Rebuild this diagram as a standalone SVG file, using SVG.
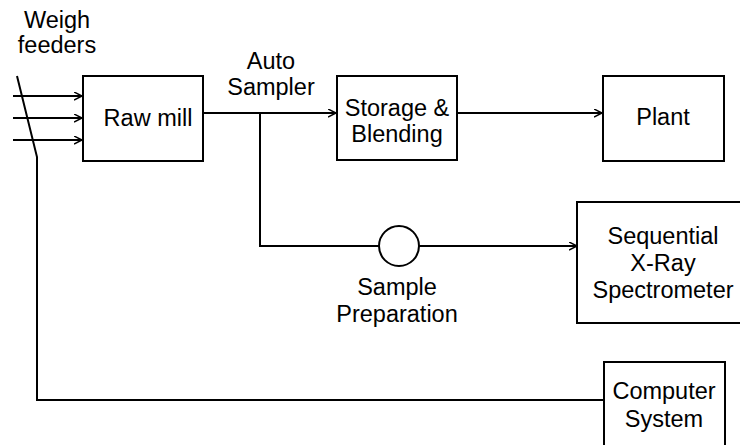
<svg xmlns="http://www.w3.org/2000/svg" width="740" height="445" viewBox="0 0 740 445">
<style>
.box{fill:#fff;stroke:#000;stroke-width:2}
.ln{fill:none;stroke:#000;stroke-width:2}
text{font-family:"Liberation Sans",Arial,sans-serif;font-size:23.5px;fill:#000;text-anchor:middle}
</style>
<defs>
<marker id="arr" markerWidth="10" markerHeight="10" refX="8" refY="4" orient="auto" markerUnits="userSpaceOnUse">
<path d="M0,0 L8,4 L0,8" fill="none" stroke="#000" stroke-width="1.5"/>
</marker>
</defs>
<rect width="740" height="445" fill="#fff"/>
<g id="connectors">
<line class="ln" x1="13" y1="96" x2="82" y2="96" marker-end="url(#arr)"/>
<line class="ln" x1="13" y1="118" x2="82" y2="118" marker-end="url(#arr)"/>
<line class="ln" x1="13" y1="140" x2="82" y2="140" marker-end="url(#arr)"/>
<polyline class="ln" points="17,76 37,157 37,400 603,400"/>
<line class="ln" x1="203" y1="113" x2="336" y2="113" marker-end="url(#arr)"/>
<line class="ln" x1="457" y1="113" x2="602" y2="113" marker-end="url(#arr)"/>
<polyline class="ln" points="260,113 260,246 379,246"/>
<line class="ln" x1="419" y1="246" x2="577" y2="246" marker-end="url(#arr)"/>
</g>
<g id="weigh-feeders">
<text x="57" y="28">Weigh</text>
<text x="57" y="53">feeders</text>
</g>
<g id="raw-mill">
<rect class="box" x="83" y="76" width="120" height="85"/>
<text x="148" y="126">Raw mill</text>
</g>
<g id="auto-sampler">
<text x="271" y="69">Auto</text>
<text x="271" y="95">Sampler</text>
</g>
<g id="storage-blending">
<rect class="box" x="337" y="76" width="120" height="84"/>
<text x="397" y="116">Storage &amp;</text>
<text x="397" y="142">Blending</text>
</g>
<g id="plant">
<rect class="box" x="603" y="76" width="121" height="85"/>
<text x="663" y="125">Plant</text>
</g>
<g id="sample-preparation">
<circle class="box" cx="399" cy="246" r="20"/>
<text x="397" y="295">Sample</text>
<text x="397" y="322">Preparation</text>
</g>
<g id="spectrometer">
<rect class="box" x="577" y="202" width="180" height="121"/>
<text x="663" y="244">Sequential</text>
<text x="663" y="271">X-Ray</text>
<text x="663" y="298">Spectrometer</text>
</g>
<g id="computer-system">
<rect class="box" x="604" y="362" width="121" height="90"/>
<text x="664" y="399">Computer</text>
<text x="664" y="427">System</text>
</g>
</svg>
